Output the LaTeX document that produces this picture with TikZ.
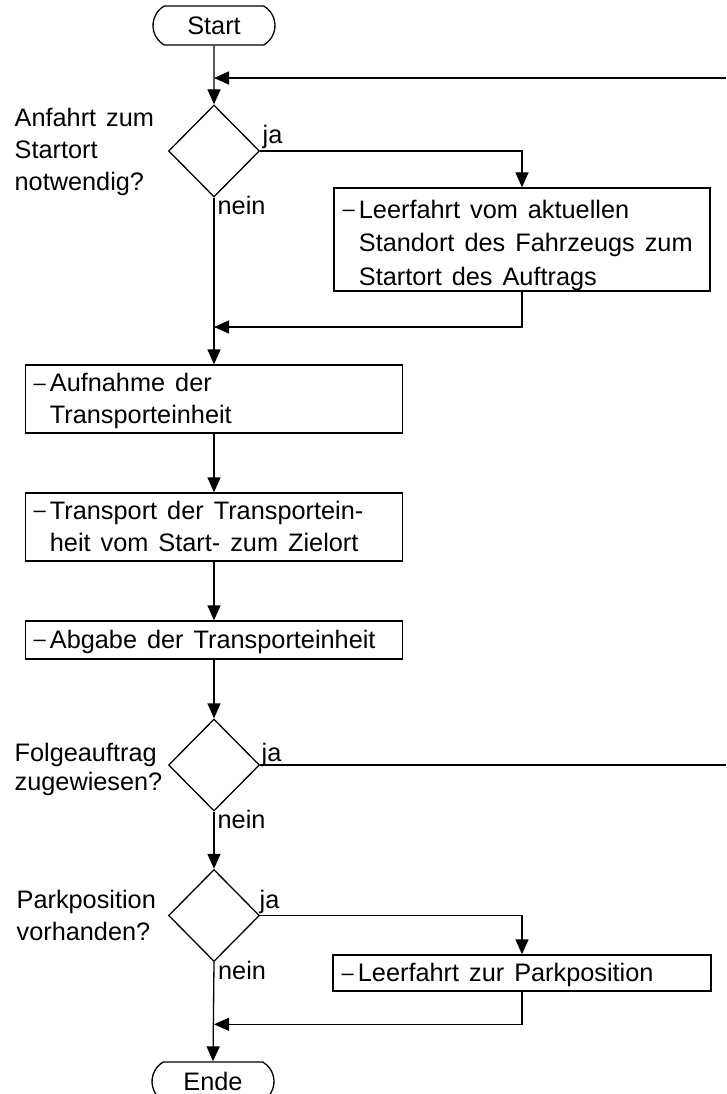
\documentclass[tikz,border=0pt]{standalone}
\usepackage{fontspec}
\setmainfont{Liberation Sans}
\usetikzlibrary{arrows.meta,shapes.geometric,shapes.misc}

% body font with slightly wider word spaces
\newcommand{\chartfont}{\fontsize{25.3}{32.5}\selectfont\setlength{\spaceskip}{10pt}}
% small low dash in front of each action
\newcommand{\itemdash}{\raisebox{1.5pt}{\fontsize{22}{22}\selectfont –}}

\tikzset{
  terminal/.style={draw, rounded rectangle, rounded rectangle arc length=120,
    minimum width=122pt, minimum height=39pt, inner sep=0pt},
  decision/.style={draw, diamond, minimum width=91pt, minimum height=92pt,
    inner sep=0pt},
  actionbox/.style={draw, rectangle, inner sep=0pt},
  txt/.style={anchor=base west, inner sep=0pt, align=left},
  flow/.style={-{Triangle[length=15pt,width=13pt]}},
}

\begin{document}
\begin{tikzpicture}[x=1pt, y=-1pt, line width=1.3pt, font=\chartfont]
\useasboundingbox (0,0) rectangle (726,1094);

% terminals
\node[terminal] (start) at (214,25.5) {Start};
\node[terminal] (ende)  at (213,1081.5) {Ende};

% decisions
\node[decision] (d1) at (214,151) {};
\node[decision] (d2) at (214,765) {};
\node[decision] (d3) at (214,915.5) {};

% action boxes
\node[actionbox, minimum width=376pt, minimum height=103pt] (b1) at (522,239.5) {};
\node[actionbox, minimum width=377pt, minimum height=68pt]  (b2) at (214,399) {};
\node[actionbox, minimum width=377pt, minimum height=68pt]  (b3) at (214,527) {};
\node[actionbox, minimum width=377pt, minimum height=38pt]  (b4) at (214,640) {};
\node[actionbox, minimum width=378pt, minimum height=36pt]  (b5) at (522,973) {};

% action texts
\node[txt] (t1) at (342,218) {\begin{tabular}[t]{@{}l@{\hspace{4pt}}l@{}}
  \itemdash & Leerfahrt vom aktuellen\\[1pt]
            & Standort des Fahrzeugs zum\\[1pt]
            & Startort des Auftrags\end{tabular}};
\node[txt] (t2) at (33,391.7) {\begin{tabular}[t]{@{}l@{\hspace{4pt}}l@{}}
  \itemdash & Aufnahme der\\[-1pt]
            & Transporteinheit\end{tabular}};
\node[txt] (t3) at (33,519.3) {\begin{tabular}[t]{@{}l@{\hspace{4pt}}l@{}}
  \itemdash & Transport der Transportein-\\
            & heit vom Start- zum Zielort\end{tabular}};
\node[txt] (t4) at (33,648.3) {\begin{tabular}[t]{@{}l@{\hspace{4pt}}l@{}}
  \itemdash & Abgabe der Transporteinheit\end{tabular}};
\node[txt] (t5) at (341,981.7) {\begin{tabular}[t]{@{}l@{\hspace{4pt}}l@{}}
  \itemdash & Leerfahrt zur Parkposition\end{tabular}};

% questions
\node[txt] (q1) at (14,126.7) {\begin{tabular}[t]{@{}l@{}}
  Anfahrt zum\\[-0.8pt] Startort\\[-0.8pt] notwendig?\end{tabular}};
\node[txt] (q2) at (14,761.7) {\begin{tabular}[t]{@{}l@{}}
  Folgeauftrag\\[-4.2pt] zugewiesen?\end{tabular}};
\node[txt] (q3) at (16,908.3) {\begin{tabular}[t]{@{}l@{}}
  Parkposition\\[-0.8pt] vorhanden?\end{tabular}};

% branch labels
\node[txt] (ja1)   at (262,143.3) {ja};
\node[txt] (nein1) at (217,214.5) {nein};
\node[txt] (ja2)   at (261,761.7) {ja};
\node[txt] (nein2) at (217,828.5) {nein};
\node[txt] (ja3)   at (259,908)   {ja};
\node[txt] (nein3) at (217.5,979.5) {nein};

% junction points
\coordinate (loopin)  at (726,78);
\coordinate (loopout) at (726,765);
\coordinate (join1)   at (214,327);
\coordinate (join2)   at (214,1024.3);

% connectors
\draw[flow] (start) -- (d1);
\draw[flow] (loopin) -- (loopin -| start);
\draw[flow] (d1.east) -| (b1.north);
\draw[flow] (b1.south) |- (join1);
\draw[flow] (d1.south) -- (b2.north);
\draw[flow] (b2) -- (b3);
\draw[flow] (b3) -- (b4);
\draw[flow] (b4) -- (d2);
\draw (d2.east) -- (loopout);
\draw[flow] (d2) -- (d3);
\draw[flow] (d3.east) -| (b5.north);
\draw[flow] (b5.south) |- (join2);
\draw[flow] (d3.south) -- (ende.north);
\end{tikzpicture}
\end{document}
